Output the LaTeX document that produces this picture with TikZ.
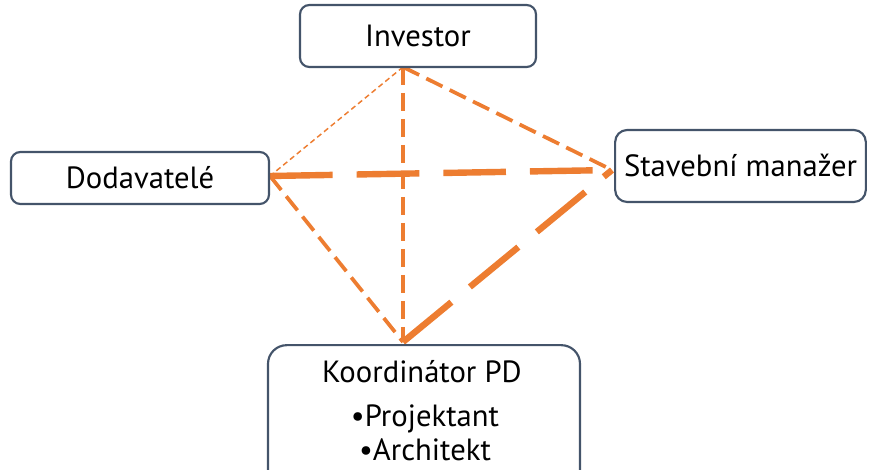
\documentclass[tikz,border=0pt]{standalone}
\usepackage{fontspec}
\setmainfont{PT Sans}
\definecolor{acc}{HTML}{ED7D31}
\definecolor{bord}{HTML}{44546A}
\begin{document}
\begin{tikzpicture}[x=0.75pt,y=-0.75pt,
  box/.style={draw=bord,line width=1.6pt,fill=white,rounded corners=7pt,inner sep=0pt,
    text height=16pt,text depth=0pt,font=\fontsize{23}{27}\selectfont},
  lbl/.style={inner sep=0pt,anchor=base,font=\fontsize{23}{27}\selectfont},
  thickdash/.style={draw=acc,line width=4.8pt,dash pattern=on 47pt off 18pt},
  meddash/.style={draw=acc,line width=2.8pt,dash pattern=on 13.5pt off 6pt},
  thindash/.style={draw=acc,line width=1.1pt,dash pattern=on 4pt off 2.6pt}]
\useasboundingbox (0,0) rectangle (869,470);
\clip (0,0) rectangle (869,470);
% connection points
\coordinate (ip) at (403,67);
\coordinate (dp) at (270,176);
\coordinate (sp) at (612,170);
\coordinate (kp) at (403,342);
% connectors
\draw[thindash] (ip) -- (dp);
\draw[meddash] (ip) -- (kp);
\draw[meddash] (ip) -- (sp);
\draw[meddash] (dp) -- (kp);
\draw[thickdash] (dp) -- (sp);
\draw[thickdash] (kp) -- (sp);
% boxes
\node[box,minimum width=177pt,minimum height=46.5pt] (inv) at (418,36) {Investor};
\node[box,minimum width=193.5pt,minimum height=39pt] (dod) at (140,178) {Dodavatelé};
\node[box,minimum width=188pt,minimum height=54pt,rounded corners=9pt] (sta) at (740.5,166) {Stavební manažer};
\node[box,minimum width=234pt,minimum height=116pt,rounded corners=14pt] (kor) at (424,422.5) {};
\node[lbl] (k1) at (422,383) {Koordinátor PD};
\node[lbl] (k2) at (425,427) {•Projektant};
\node[lbl] (k3) at (425,461) {•Architekt};
\end{tikzpicture}
\end{document}
